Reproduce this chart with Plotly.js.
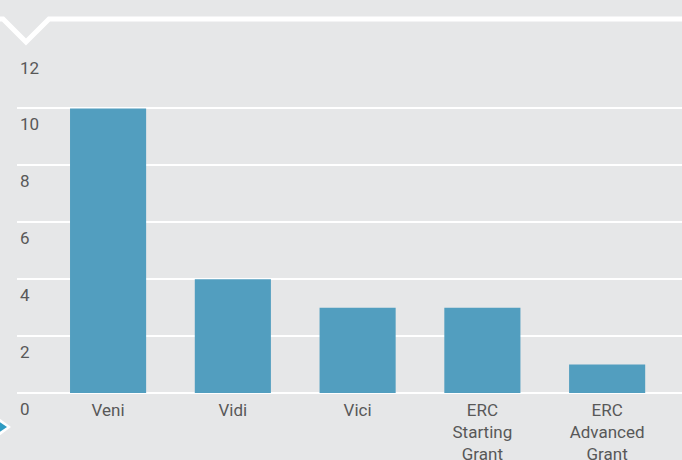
<!DOCTYPE html>
<html>
<head>
<meta charset="utf-8">
<script src="https://cdn.plot.ly/plotly-3.0.1.min.js"></script>
<style>
html,body{margin:0;padding:0;background:#e6e7e8;}
#chart{width:682px;height:460px;}
</style>
</head>
<body>
<div id="chart"></div>
<script>
const categories = ["Veni", "Vidi", "Vici", "ERC<br>Starting<br>Grant", "ERC<br>Advanced<br>Grant"];
const values = [10, 4, 3, 3, 1];
const yTickValues = [0, 2, 4, 6, 8, 10, 12];
const yTickLabels = ["0", "2", "4", "6", "8", "10", "12"];

const W = 682, H = 460;
const L = 17, R = 0, T = 51, B = 67;
const pw = W - L - R, ph = H - T - B;
function px(x){ return (x - L) / pw; }
function py(y){ return (H - B - y) / ph; }
function path(pts, close){
  let s = pts.map((p,i)=> (i? 'L':'M') + px(p[0]).toFixed(5) + ',' + py(p[1]).toFixed(5)).join(' ');
  return close ? s + ' Z' : s;
}
const barColor = '#529ebf';
const textColor = '#585858';

const trace = {
  type: 'bar',
  x: categories,
  y: values,
  width: 0.61,
  marker: {color: barColor, line: {width: 0}},
  hoverinfo: 'skip'
};

const layout = {
  width: W, height: H,
  margin: {l: L, r: R, t: T, b: B, pad: 0},
  paper_bgcolor: '#e6e7e8',
  plot_bgcolor: '#e6e7e8',
  showlegend: false,
  font: {family: 'Roboto, sans-serif', size: 17, color: textColor},
  xaxis: {
    type: 'category',
    range: [-0.73, 4.60],
    showgrid: false, zeroline: false, showline: false,
    ticks: '',
    ticklabelstandoff: 5,
    tickfont: {size: 17, color: textColor},
    fixedrange: true
  },
  yaxis: {
    range: [0, 12.02],
    tickvals: yTickValues,
    ticktext: yTickLabels,
    showgrid: true, gridcolor: '#ffffff', gridwidth: 2,
    zeroline: true, zerolinecolor: '#ffffff', zerolinewidth: 2,
    showline: false, ticks: '',
    ticklabelposition: 'inside',
    ticklabelshift: 16,
    ticklabelstandoff: 0,
    ticklabeloverflow: 'allow',
    tickfont: {size: 17, color: textColor},
    fixedrange: true
  },
  shapes: [
    {type: 'path', xref: 'paper', yref: 'paper', layer: 'above',
     path: path([[-5,19],[3,19],[26,42],[49,19],[690,19]], false),
     line: {color: '#ffffff', width: 5}},
    {type: 'path', xref: 'paper', yref: 'paper', layer: 'above',
     path: path([[-5,415],[11,427],[-5,439]], true),
     fillcolor: '#ffffff', line: {width: 0}},
    {type: 'path', xref: 'paper', yref: 'paper', layer: 'above',
     path: path([[-5,419],[7,427],[-5,435]], true),
     fillcolor: '#2f9bc2', line: {width: 0}}
  ]
};

Plotly.newPlot('chart', [trace], layout, {displayModeBar: false, staticPlot: true});
</script>
</body>
</html>
